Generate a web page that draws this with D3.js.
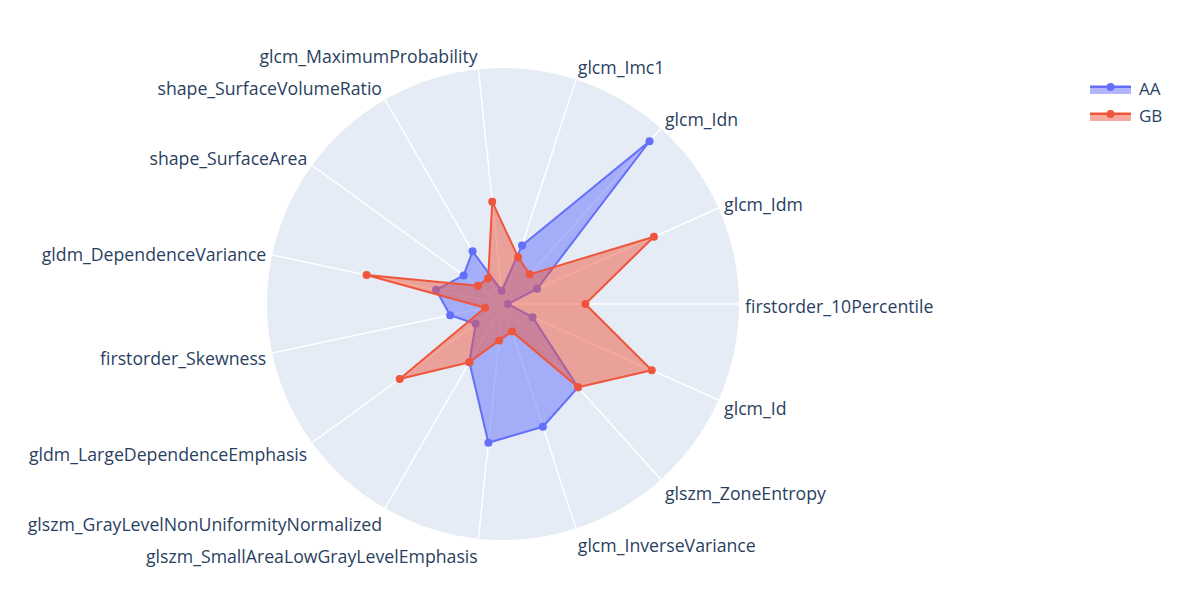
<!DOCTYPE html>
<meta charset="utf-8">
<style>
body { margin: 0; background: #fff; }
svg text { font-family: "Open Sans", sans-serif; fill: #2a3f5f; }
.spoke { stroke: #fff; stroke-width: 1.5; }
</style>
<svg width="1188" height="606"></svg>
<script src="https://cdn.jsdelivr.net/npm/d3@7"></script>
<script>

var categories = ["firstorder_10Percentile", "glcm_Idm", "glcm_Idn", "glcm_Imc1",
  "glcm_MaximumProbability", "shape_SurfaceVolumeRatio", "shape_SurfaceArea",
  "gldm_DependenceVariance", "firstorder_Skewness", "gldm_LargeDependenceEmphasis",
  "glszm_GrayLevelNonUniformityNormalized", "glszm_SmallAreaLowGrayLevelEmphasis",
  "glcm_InverseVariance", "glszm_ZoneEntropy", "glcm_Id"];

var aaValues = [0.02, 0.158, 0.928, 0.261, 0.056, 0.258, 0.206, 0.29, 0.229, 0.143,
  0.285, 0.591, 0.547, 0.475, 0.137];
var gbValues = [0.349, 0.70, 0.169, 0.208, 0.436, 0.126, 0.131, 0.591, 0.078, 0.541,
  0.285, 0.155, 0.122, 0.475, 0.69];

var seriesNames = ["AA", "GB"];
var colors = ["#636efa", "#EF553B"];

var svg = d3.select("svg"),
    cx = 503, cy = 304, R = 236;

var r = d3.scaleLinear().domain([0, 1]).range([0, R]);
var angle = d3.scalePoint().domain(categories).range([0, 360 - 360 / categories.length]);

function rad(c) { return angle(c) * Math.PI / 180; }

var g = svg.append("g").attr("transform", "translate(" + cx + "," + cy + ")");

g.append("circle").attr("r", R).attr("fill", "#E5ECF6");

g.selectAll(".spoke")
    .data(categories)
  .enter().append("line")
    .attr("class", "spoke")
    .attr("x2", function(d) { return R * Math.cos(rad(d)); })
    .attr("y2", function(d) { return -R * Math.sin(rad(d)); });

g.selectAll(".tick")
    .data(categories)
  .enter().append("text")
    .attr("class", "tick")
    .attr("font-size", 17.7)
    .attr("dominant-baseline", "central")
    .attr("text-anchor", function(d) {
      var c = Math.cos(rad(d));
      return Math.abs(c) < 0.1 ? "middle" : (c > 0 ? "start" : "end");
    })
    .attr("x", function(d) { return (R + 6) * Math.cos(rad(d)); })
    .attr("y", function(d) { var s = Math.sin(rad(d)); return -(R + 6) * s - s * 9.5 + 2; })
    .text(function(d) { return d; });

var radial = d3.lineRadial()
    .angle(function(d) { return Math.PI / 2 - rad(d.cat); })
    .radius(function(d) { return r(d.v); })
    .curve(d3.curveLinearClosed);

[aaValues, gbValues].forEach(function(vals, i) {
  var pts = categories.map(function(c, j) { return { cat: c, v: vals[j] }; });
  var tg = g.append("g");
  tg.append("path")
      .datum(pts)
      .attr("d", radial)
      .attr("fill", colors[i])
      .attr("fill-opacity", 0.5)
      .attr("stroke", colors[i])
      .attr("stroke-width", 2)
      .attr("stroke-linejoin", "round");
  tg.selectAll("circle")
      .data(pts)
    .enter().append("circle")
      .attr("r", 4)
      .attr("fill", colors[i])
      .attr("cx", function(d) { return r(d.v) * Math.cos(rad(d.cat)); })
      .attr("cy", function(d) { return -r(d.v) * Math.sin(rad(d.cat)); });
});

// legend
var legend = svg.append("g").attr("transform", "translate(1090,87)");
seriesNames.forEach(function(name, i) {
  var lg = legend.append("g").attr("transform", "translate(0," + (i * 27) + ")");
  lg.append("rect").attr("x", 0).attr("y", -2).attr("width", 41).attr("height", 9)
      .attr("fill", colors[i]).attr("fill-opacity", 0.5);
  lg.append("line").attr("x1", 0).attr("x2", 41)
      .attr("stroke", colors[i]).attr("stroke-width", 2);
  lg.append("circle").attr("cx", 20.5).attr("r", 4).attr("fill", colors[i]);
  lg.append("text").attr("x", 49).attr("y", 1).attr("font-size", 17)
      .attr("dominant-baseline", "central").text(name);
});

</script>
